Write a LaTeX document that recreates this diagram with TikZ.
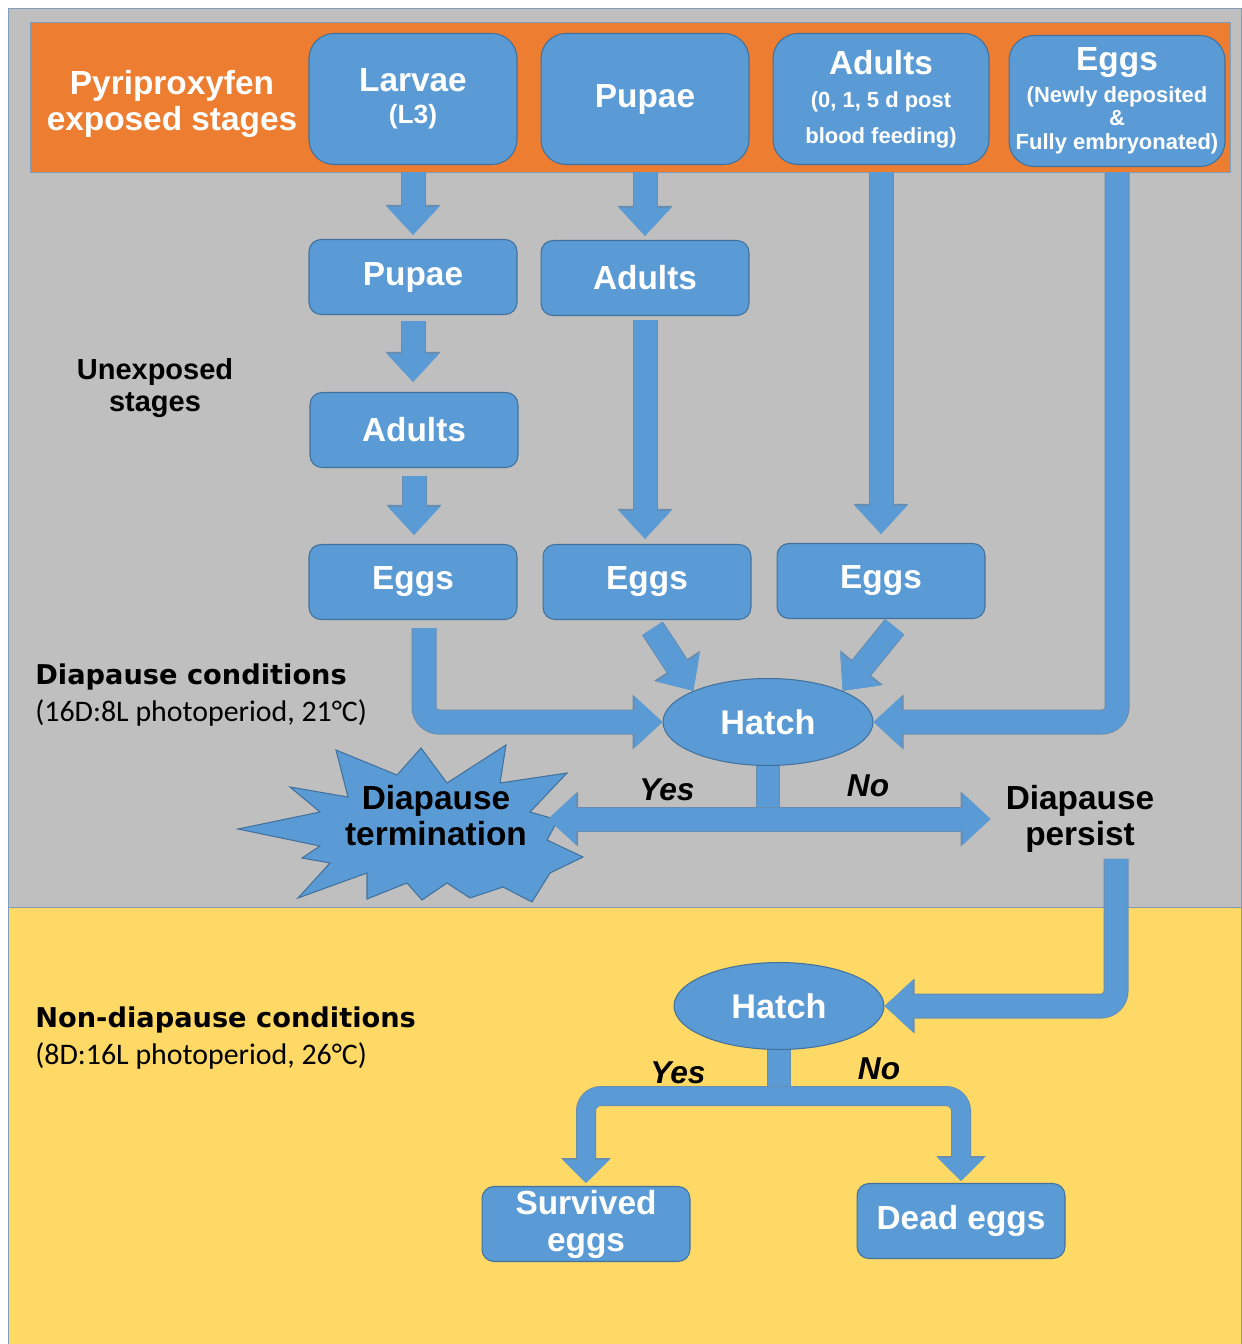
\documentclass[tikz,border=0pt]{standalone}
\usepackage{fontspec}
\setmainfont{Liberation Sans}
\newfontfamily\calibrifont{Carlito}
\newfontfamily\verdanafont{DejaVu Sans}
\usepackage{xcolor}
\usepackage{tikz}
\usetikzlibrary{shapes.geometric,arrows.meta,positioning}

\definecolor{panelgray}{HTML}{BFBFBF}
\definecolor{panelyellow}{HTML}{FFD966}
\definecolor{bandorange}{HTML}{ED7D31}
\definecolor{stageblue}{HTML}{5B9BD5}
\definecolor{stageedge}{HTML}{41719C}
\definecolor{paneledge}{HTML}{7F9DB9}

\tikzset{
  stagebox/.style={draw=stageedge, line width=0.6pt, fill=stageblue, rounded corners=0.24cm,
    minimum width=4.16cm, minimum height=1.5cm, inner sep=0pt, align=center,
    text=white, font=\bfseries\fontsize{19}{21}\selectfont},
  topbox/.style={stagebox, rounded corners=0.5cm, minimum height=2.62cm},
  hatchbox/.style={ellipse, draw=stageedge, line width=0.6pt, fill=stageblue,
    minimum width=4.2cm, minimum height=1.74cm, inner sep=0pt,
    text=white, font=\bfseries\fontsize{19.5}{22}\selectfont},
  burst/.style={draw=stageedge, line width=0.6pt, fill=stageblue, line join=miter},
  darklabel/.style={align=center, font=\bfseries\fontsize{19}{20.5}\selectfont},
  answer/.style={font=\bfseries\itshape\fontsize{18}{20}\selectfont},
  condtitle/.style={anchor=west, inner sep=0pt, font=\verdanafont\bfseries\fontsize{15.5}{18}\selectfont},
  condsub/.style={anchor=west, inner sep=0pt, font=\calibrifont\fontsize{17}{20}\selectfont},
  flow/.style={draw=stageblue, line width=0.46cm, rounded corners=0.3cm,
    -{Triangle[width=1cm,length=0.56cm]},
    preaction={draw=stageedge!80, line width=0.5cm, -{Triangle[width=1.06cm,length=0.6cm]}}},
  flowthin/.style={draw=stageblue, line width=0.36cm, rounded corners=0.3cm,
    -{Triangle[width=0.9cm,length=0.46cm]},
    preaction={draw=stageedge!80, line width=0.4cm, -{Triangle[width=0.96cm,length=0.5cm]}}},
  shaft/.style={draw=stageblue, line width=0.44cm,
    preaction={draw=stageedge!80, line width=0.48cm}},
}

\begin{document}
\begin{tikzpicture}[x=0.02cm, y=-0.02cm]
  \useasboundingbox (0,0) rectangle (1241,1344);

  % Panels
  \fill[white] (0,0) rectangle (1241,1344);
  \draw[paneledge, fill=panelgray] (8,8) rectangle (1241,907);
  \draw[paneledge, fill=panelyellow] (8,907) rectangle (1241,1344);
  \node (band) at (630,97) [draw=paneledge, fill=bandorange, minimum width=24cm, minimum height=3cm] {};
  \node (bandlabel) at (172,104) [text=white, align=center, font=\bfseries\fontsize{19}{20}\selectfont] {Pyriproxyfen\\exposed stages};

  % Exposed stages
  \node (larvae) at (413,99) [topbox] {Larvae\\[-3pt]{\fontsize{15}{17}\selectfont (L3)}};
  \node (pupaeT) at (645,99) [topbox] {Pupae};
  \node (adultsT) at (881,99) [topbox, minimum width=4.32cm] {Adults\\[-2pt]{\fontsize{12.5}{20.5}\selectfont (0, 1, 5 d post}\\[-1pt]{\fontsize{12.5}{20.5}\selectfont blood feeding)}};
  \node (eggsT) at (1117,101) [topbox, minimum width=4.32cm] {Eggs\\[-2.5pt]{\fontsize{12.5}{13.5}\selectfont (Newly deposited}\\[-8.3pt]{\fontsize{12.5}{13.5}\selectfont \&}\\[-7pt]{\fontsize{12.5}{13.5}\selectfont Fully embryonated)}};

  % Unexposed stages
  \node (unexposed) at (155,388) [darklabel, font=\bfseries\fontsize{16.5}{18.5}\selectfont] {Unexposed\\stages};
  \node (pupaeA) at (413,277) [stagebox] {Pupae};
  \node (adultsB) at (645,278) [stagebox] {Adults};
  \node (adultsA) at (414,430) [stagebox] {Adults};
  \node (eggsA) at (413,582) [stagebox] {Eggs};
  \node (eggsB) at (647,582) [stagebox] {Eggs};
  \node (eggsC) at (881,581) [stagebox] {Eggs};

  % Diapause conditions
  \node (diacond) at (35,677) [condtitle] {Diapause conditions};
  \node (diasub) at (35,713) [condsub] {(16D:8L photoperiod, 21°C)};
  \node (hatchA) at (768,722) [hatchbox] {Hatch};
  \draw[burst] (238,829) -- (320,812) -- (290,787) -- (348,797) -- (336,750) -- (397,775)
    -- (421,748) -- (447,783) -- (506,745) -- (500,783) -- (567,773) -- (530,812)
    -- (558,820) -- (547,840) -- (583,857) -- (550,873) -- (532,902) -- (503,887)
    -- (470,898) -- (447,883) -- (422,900) -- (407,883) -- (367,899) -- (367,873)
    -- (298,898) -- (330,863) -- (302,858) -- (320,846) -- cycle;
  \node (termlabel) at (436,816) [darklabel] {Diapause\\termination};
  \node (persist) at (1080,819) [darklabel] {Diapause\\persist};
  \node (yesA) at (667,790) [answer] {Yes};
  \node (noA) at (868,786) [answer] {No};

  % Non-diapause conditions
  \node (nondicond) at (35,1020) [condtitle] {Non-diapause conditions};
  \node (nondisub) at (35,1056) [condsub] {(8D:16L photoperiod, 26°C)};
  \node (hatchB) at (779,1006) [hatchbox] {Hatch};
  \node (survived) at (586,1224) [stagebox] {Survived\\eggs};
  \node (dead) at (961,1221) [stagebox] {Dead eggs};
  \node (yesB) at (678,1073) [answer] {Yes};
  \node (noB) at (879,1069) [answer] {No};

  % Stage to stage
  \draw[flow, shorten >=0.08cm] (larvae.south |- band.south) -- (pupaeA.north);
  \draw[flow, shorten <=0.12cm, shorten >=0.2cm] (pupaeA.south) -- (pupaeA.south |- adultsA.north);
  \draw[flow, shorten <=0.16cm, shorten >=0.18cm] (adultsA.south) -- (adultsA.south |- eggsA.north);
  \draw[flow, shorten >=0.08cm] (pupaeT.south |- band.south) -- (adultsB.north);
  \draw[flow, shorten <=0.08cm, shorten >=0.1cm] (adultsB.south) -- (adultsB.south |- eggsB.north);
  \draw[flow, shorten >=0.18cm] (adultsT.south |- band.south) -- (eggsC.north);

  % Eggs to hatch
  \coordinate (eggsAout) at ([xshift=0.22cm]eggsA.south);
  \coordinate (eggsCout) at ([xshift=0.4cm]eggsC.south);
  \draw[flow, shorten <=0.16cm] (eggsAout) -- (eggsAout |- hatchA.west) -- (hatchA.west);
  \draw[flow, shorten <=0.2cm] (eggsB.south) -- (hatchA.north west);
  \draw[flow, shorten <=0.2cm] (eggsCout) -- (hatchA.north east);
  \draw[flow] (eggsT.south |- band.south) -- (eggsT.south |- hatchA.east) -- (hatchA.east);

  % Hatch or not
  \coordinate (splitA) at ([yshift=-1.06cm]hatchA.south);
  \coordinate (termtip) at (548,818);
  \draw[shaft] (hatchA.south) -- (splitA);
  \draw[flow] (splitA) -- (splitA -| termtip);
  \draw[flow, shorten >=0.18cm] (splitA) -- (splitA -| persist.west);

  % Persisting eggs moved
  \coordinate (persistout) at ([xshift=0.72cm]persist.south);
  \draw[flow] (persistout) -- (persistout |- hatchB.east) -- (hatchB.east);

  % Survival
  \coordinate (splitB) at ([yshift=-0.92cm]hatchB.south);
  \draw[shaft] (hatchB.south) -- (splitB);
  \draw[flowthin, shorten >=0.06cm] (splitB) -- (splitB -| survived.north) -- (survived.north);
  \draw[flowthin, shorten >=0.04cm] (splitB) -- (splitB -| dead.north) -- (dead.north);
\end{tikzpicture}
\end{document}
